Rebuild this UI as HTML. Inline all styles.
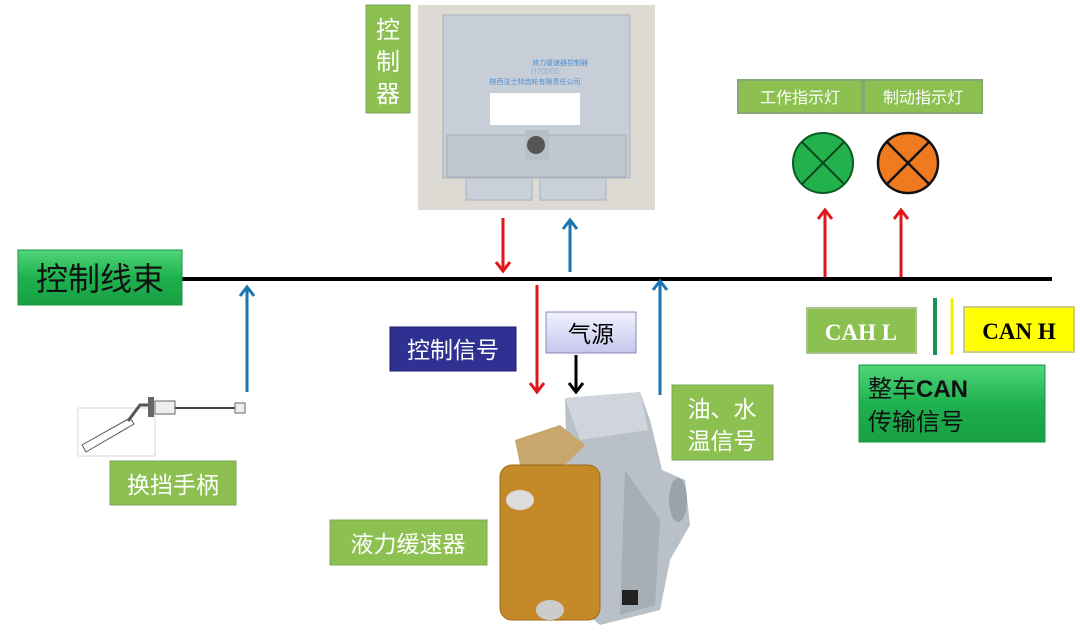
<!DOCTYPE html>
<html><head><meta charset="utf-8"><style>
body{margin:0;background:#fff;}
svg text{font-family:"Liberation Sans","Noto Sans CJK SC",sans-serif;}
svg text.serif{font-family:"Liberation Serif",serif;}
</style></head><body>
<svg width="1080" height="632" viewBox="0 0 1080 632" xmlns="http://www.w3.org/2000/svg">
<defs>
<linearGradient id="g1" x1="0" y1="0" x2="0" y2="1"><stop offset="0" stop-color="#4fd67a"/><stop offset="0.5" stop-color="#1fb14f"/><stop offset="1" stop-color="#17a044"/></linearGradient>
<linearGradient id="lav" x1="0" y1="0" x2="0" y2="1"><stop offset="0" stop-color="#f2f2ff"/><stop offset="1" stop-color="#c6c6ee"/></linearGradient>
</defs>
<!-- controller -->
<rect x="418" y="5" width="237" height="205" fill="#dcdad3"/>
<rect x="443" y="15" width="187" height="163" fill="#c7ced7" stroke="#aab2bc"/>
<rect x="447" y="135" width="179" height="42" fill="#bfc7d0" stroke="#a9b1ba"/>
<rect x="525" y="130" width="24" height="30" fill="#b7bfc8"/>
<circle cx="536" cy="145" r="9" fill="#555"/>
<rect x="490" y="93" width="90" height="32" fill="#fff"/>
<text x="560" y="65" font-size="7" fill="#4c8fd0" text-anchor="middle">液力缓速器控制器</text>
<text x="545" y="74" font-size="8" fill="#8eaed0" text-anchor="middle">H70000</text>
<text x="535" y="84" font-size="7" fill="#4c8fd0" text-anchor="middle">陕西法士特齿轮有限责任公司</text>
<rect x="466" y="178" width="66" height="22" fill="#c9d0d8" stroke="#aab2bc"/>
<rect x="540" y="178" width="66" height="22" fill="#c9d0d8" stroke="#aab2bc"/>
<!-- 控制器 label -->
<rect x="366" y="5" width="44" height="108" fill="#8cc152" stroke="#7aa85a"/>
<text x="388" y="38" font-size="24" fill="#fff" text-anchor="middle">控</text>
<text x="388" y="70" font-size="24" fill="#fff" text-anchor="middle">制</text>
<text x="388" y="102" font-size="24" fill="#fff" text-anchor="middle">器</text>
<!-- main line -->
<line x1="180" y1="279" x2="1052" y2="279" stroke="#000" stroke-width="4"/>
<rect x="18" y="250" width="164" height="55" fill="url(#g1)" stroke="#19953f"/>
<text x="100" y="290" font-size="32" fill="#111" text-anchor="middle">控制线束</text>
<!-- arrows -->
<g stroke-width="3" fill="none">
<path d="M503 218V270M496 262L503 271L510 262" stroke="#e0161c"/>
<path d="M570 272V220M563 229L570 220L577 229" stroke="#1a75b0"/>
<path d="M537 285V391M530 383L537 392L544 383" stroke="#e0161c"/>
<path d="M576 355V391M569 383L576 392L583 383" stroke="#000"/>
<path d="M660 395V281M653 290L660 281L667 290" stroke="#1a75b0"/>
<path d="M247 392V287M240 296L247 287L254 296" stroke="#1a75b0"/>
<path d="M825 277V210M818 219L825 210L832 219" stroke="#e0161c"/>
<path d="M901 277V210M894 219L901 210L908 219" stroke="#e0161c"/>
</g>
<!-- lever -->
<rect x="78" y="408" width="77" height="48" fill="none" stroke="#ccc" stroke-width="0.8"/>
<path d="M82 445 L130 418 L134 424 L86 452 Z" fill="#fff" stroke="#555"/>
<path d="M128 421 L140 405 L150 405" fill="none" stroke="#555" stroke-width="3"/>
<rect x="148" y="397" width="6" height="20" fill="#666"/>
<rect x="155" y="401" width="20" height="13" fill="#eee" stroke="#666"/>
<line x1="175" y1="408" x2="235" y2="408" stroke="#444" stroke-width="2"/>
<rect x="235" y="403" width="10" height="10" fill="#eee" stroke="#666"/>
<rect x="110" y="461" width="126" height="44" fill="#8cc152" stroke="#7aa85a"/>
<text x="173" y="493" font-size="23" fill="#fff" text-anchor="middle">换挡手柄</text>
<!-- 控制信号 -->
<rect x="390" y="327" width="126" height="44" fill="#2e3192" stroke="#1c1f70"/>
<text x="453" y="358" font-size="23" fill="#fff" text-anchor="middle">控制信号</text>
<rect x="546" y="312" width="90" height="41" fill="url(#lav)" stroke="#8888bb"/>
<text x="591" y="342" font-size="23" fill="#000" text-anchor="middle">气源</text>
<!-- retarder -->
<path d="M565 398 L640 392 L650 420 L662 470 L685 480 L690 525 L670 560 L660 610 L600 625 L570 600 Z" fill="#b9c0c7"/>
<path d="M565 398 L640 392 L648 430 L580 440 Z" fill="#cfd5db"/>
<path d="M625 470 L660 520 L655 605 L620 615 Z" fill="#a6aeb6"/>
<ellipse cx="678" cy="500" rx="9" ry="22" fill="#9aa2aa"/>
<rect x="622" y="590" width="16" height="15" fill="#222"/>
<path d="M515 440 L560 425 L585 445 L560 470 L520 465 Z" fill="#c9a66b"/>
<rect x="500" y="465" width="100" height="155" rx="12" fill="#c48a2a" stroke="#9c6a18"/>
<ellipse cx="520" cy="500" rx="14" ry="10" fill="#ddd"/>
<ellipse cx="550" cy="610" rx="14" ry="10" fill="#ccc"/>
<rect x="330" y="520" width="157" height="45" fill="#8cc152" stroke="#7aa85a"/>
<text x="408" y="552" font-size="23" fill="#fff" text-anchor="middle">液力缓速器</text>
<!-- oil water -->
<rect x="672" y="385" width="101" height="75" fill="#8cc152" stroke="#7aa85a"/>
<text x="722" y="417" font-size="23" fill="#fff" text-anchor="middle">油、水</text>
<text x="722" y="449" font-size="23" fill="#fff" text-anchor="middle">温信号</text>
<!-- lamps -->
<rect x="738" y="80" width="124" height="33" fill="#8cc152" stroke="#86a874" stroke-width="2"/>
<rect x="864" y="80" width="118" height="33" fill="#8cc152" stroke="#86a874" stroke-width="2"/>
<text x="800" y="103" font-size="16" fill="#fff" text-anchor="middle">工作指示灯</text>
<text x="923" y="103" font-size="16" fill="#fff" text-anchor="middle">制动指示灯</text>
<circle cx="823" cy="163" r="30" fill="#22b14c" stroke="#0b5a22" stroke-width="2"/>
<path d="M802 142L844 184M844 142L802 184" stroke="#0b4a1c" stroke-width="2"/>
<circle cx="908" cy="163" r="30" fill="#f07a20" stroke="#111" stroke-width="2.5"/>
<path d="M887 142L929 184M929 142L887 184" stroke="#111" stroke-width="2.5"/>
<!-- CAN -->
<rect x="807" y="308" width="109" height="45" fill="#8cc152" stroke="#a6c48e" stroke-width="2"/>
<text class="serif" x="861" y="340" font-size="23" font-weight="bold" fill="#fff" text-anchor="middle">CAH L</text>
<line x1="935" y1="298" x2="935" y2="355" stroke="#1a8f5a" stroke-width="4"/>
<line x1="952" y1="298" x2="952" y2="355" stroke="#f5f000" stroke-width="3"/>
<rect x="964" y="307" width="110" height="45" fill="#ffff00" stroke="#cccc88" stroke-width="2"/>
<text class="serif" x="1019" y="339" font-size="23" font-weight="bold" fill="#000" text-anchor="middle">CAN H</text>
<rect x="859" y="365" width="186" height="77" fill="url(#g1)" stroke="#19953f"/>
<text x="868" y="397" font-size="24" fill="#111">整车<tspan font-weight="bold">CAN</tspan></text>
<text x="868" y="430" font-size="24" fill="#111">传输信号</text>
</svg>
</body></html>
